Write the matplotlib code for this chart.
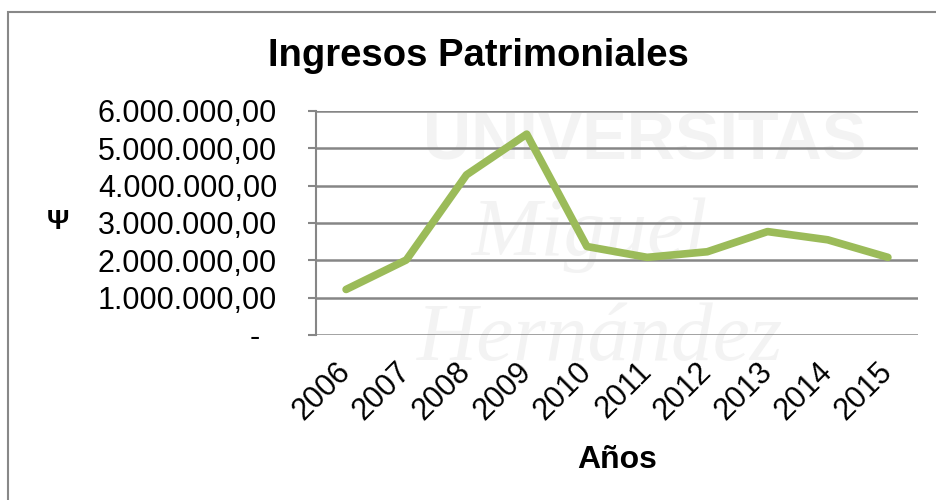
import matplotlib.pyplot as plt
import matplotlib.transforms as mtransforms
from matplotlib.patches import Rectangle

# Datos
anios = ["2006", "2007", "2008", "2009", "2010", "2011", "2012", "2013", "2014", "2015"]
ingresos = [1220000, 2010000, 4290000, 5380000, 2370000, 2080000, 2230000, 2770000, 2550000, 2080000]
ticks_y = [0, 1000000, 2000000, 3000000, 4000000, 5000000, 6000000]
etiquetas_y = ["-  ", "1.000.000,00", "2.000.000,00", "3.000.000,00",
               "4.000.000,00", "5.000.000,00", "6.000.000,00"]

plt.rcParams['font.family'] = ['Liberation Sans', 'DejaVu Sans']

fig = plt.figure(figsize=(9.37, 5), dpi=100)

# marco del grafico (cortado a la derecha y abajo)
fig.patches.append(Rectangle((8/937, -0.05), 1.0, 1 - 12/500 + 0.05,
                             transform=fig.transFigure, fill=False,
                             edgecolor='#888888', linewidth=1.5))

# marca de agua (detras de todo)
gris = '#f3f3f3'
fig.text(645/937, 1 - 142/500, "UNIVERSITAS", fontsize=48, fontweight='bold',
         color=gris, ha='center', va='center', zorder=-5)
fig.text(590/937, 1 - 235/500, "Miguel", fontsize=60, style='italic',
         family='Liberation Serif', color=gris, ha='center', va='center', zorder=-5)
fig.text(600/937, 1 - 340/500, "Hernández", fontsize=60, style='italic',
         family='Liberation Serif', color=gris, ha='center', va='center', zorder=-5)

ax = fig.add_axes([316/937, 1 - 335/500, 602/937, 224/500])
ax.patch.set_alpha(0)

x = list(range(len(anios)))
ax.plot(x, ingresos, color='#9bbb59', linewidth=5.5, solid_capstyle='round',
        solid_joinstyle='round', zorder=3)

ax.set_xlim(-0.5, len(anios) - 0.5)
ax.set_ylim(0, 6000000)
ax.set_yticks(ticks_y)
ax.set_yticklabels(etiquetas_y, fontsize=22)
ax.set_xticks(x)
ax.set_xticklabels(anios, fontsize=22, rotation=45, ha='right', va='center',
                   rotation_mode='anchor')
desplaza = mtransforms.ScaledTranslation(3/100, 0, fig.dpi_scale_trans)
for lab in ax.get_xticklabels():
    lab.set_transform(lab.get_transform() + desplaza)

ax.grid(axis='y', color='#868686', linewidth=1.8)
ax.set_axisbelow(True)
for s in ['top', 'right', 'bottom']:
    ax.spines[s].set_visible(False)
ax.spines['left'].set_color('#868686')
ax.spines['left'].set_linewidth(1.5)
ax.tick_params(axis='y', length=6, width=1.5, color='#868686', pad=22)
ax.tick_params(axis='x', length=0, pad=23)

ax.set_xlabel("Años", fontsize=23, fontweight='bold', labelpad=14)

fig.text(478/937, 1 - 56/500, "Ingresos Patrimoniales", fontsize=27.5,
         fontweight='bold', ha='center', va='center')
fig.text(58/937, 1 - 222/500, "Ψ", fontsize=20, fontweight='bold',
         ha='center', va='center')

fig.savefig("out.png", dpi=100)
